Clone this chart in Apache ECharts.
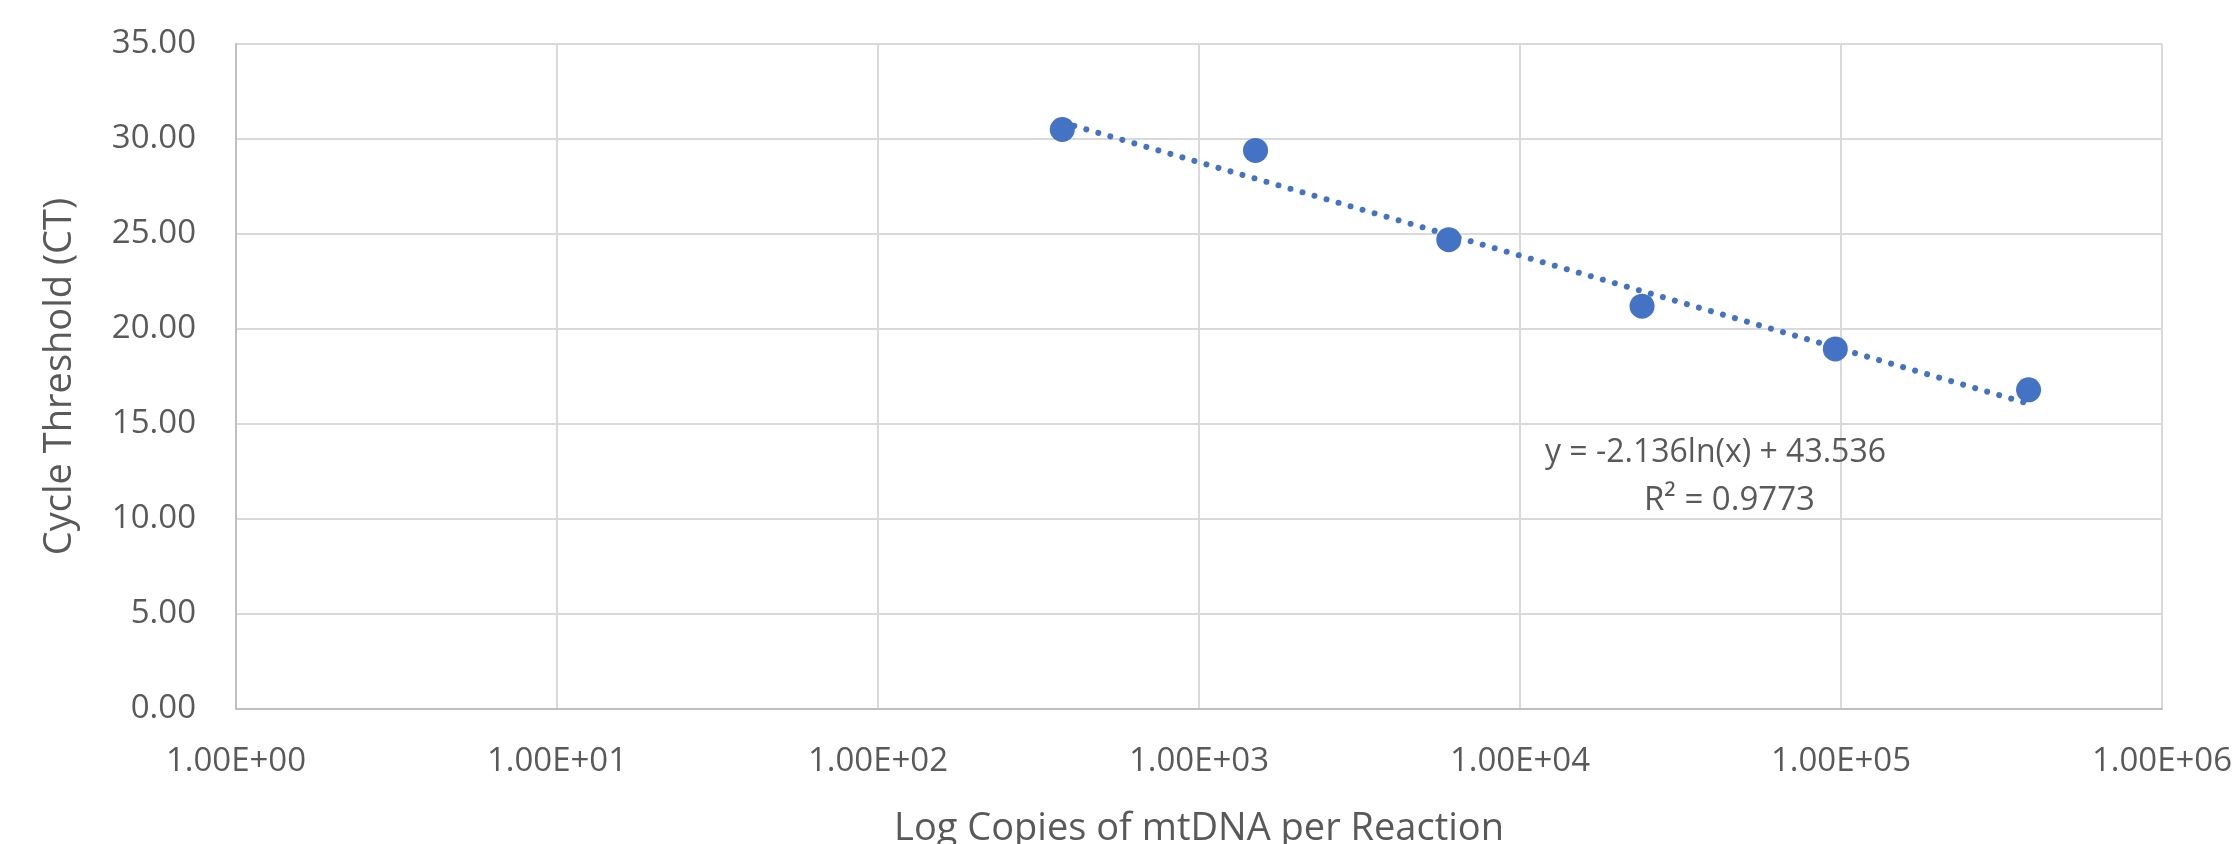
<!DOCTYPE html>
<html>
<head>
<meta charset="utf-8">
<script src="https://cdn.jsdelivr.net/npm/echarts@6/dist/echarts.min.js"></script>
<style>
  html, body { margin: 0; padding: 0; background: #fff; }
  #chart { width: 2235px; height: 844px; }
</style>
</head>
<body>
<div id="chart"></div>
<script>
// standard curve: copies per reaction vs CT
const copies = [375, 1500, 6000, 24000, 96000, 384000]
const ctValues = [30.5, 29.4, 24.7, 21.2, 18.95, 16.8]
const xTickLabels = ['1.00E+00', '1.00E+01', '1.00E+02', '1.00E+03', '1.00E+04', '1.00E+05', '1.00E+06']
const yTickLabels = ['0.00', '5.00', '10.00', '15.00', '20.00', '25.00', '30.00', '35.00']

// Excel log trendline: y = a*ln(x) + b
const trendA = -2.136
const trendB = 43.536
const trendR2 = 0.9773

const BLUE = '#4472C4'
const TEXT = '#595959'
const FONT = '"Open Sans", sans-serif'

const xMin = copies[0]
const xMax = copies[copies.length - 1]
const trendData = [xMin, xMax].map((x) => [x, trendA * Math.log(x) + trendB])

const chart = echarts.init(document.getElementById('chart'))

chart.setOption({
  animation: false,
  textStyle: { fontFamily: FONT },
  grid: { left: 236, right: 73, top: 44, bottom: 135, outerBoundsMode: 'none', containLabel: false },
  xAxis: {
    type: 'log',
    logBase: 10,
    min: 1,
    max: 1e6,
    interval: 1,
    name: 'Log Copies of mtDNA per Reaction',
    nameLocation: 'middle',
    nameGap: 101,
    nameTextStyle: { color: TEXT, fontSize: 38, fontFamily: FONT },
    axisLine: { show: true, lineStyle: { color: '#BFBFBF', width: 2 } },
    axisTick: { show: false },
    minorTick: { show: false },
    axisLabel: {
      color: TEXT, fontSize: 33, margin: 36, fontFamily: FONT,
      formatter: (v) => xTickLabels[Math.round(Math.log10(v))],
    },
    splitLine: { show: true, lineStyle: { color: '#D9D9D9', width: 2 } },
  },
  yAxis: {
    type: 'value',
    min: 0,
    max: 35,
    interval: 5,
    name: 'Cycle Threshold (CT)',
    nameLocation: 'middle',
    nameGap: 157,
    nameTextStyle: { color: TEXT, fontSize: 38, fontFamily: FONT },
    axisLine: { show: true, lineStyle: { color: '#BFBFBF', width: 2 } },
    axisTick: { show: false },
    axisLabel: {
      color: TEXT, fontSize: 33, margin: 40, fontFamily: FONT,
      formatter: (v) => yTickLabels[Math.round(v / 5)],
    },
    splitLine: { show: true, lineStyle: { color: '#D9D9D9', width: 2 } },
  },
  graphic: [
    {
      type: 'text', left: 1545, top: 437, z: 10,
      style: {
        text: 'y = ' + trendA.toFixed(3) + 'ln(x) + ' + trendB.toFixed(3),
        fill: TEXT, font: '32px ' + FONT,
      },
    },
    {
      type: 'text', left: 1644, top: 484, z: 10,
      style: { text: 'R² = ' + trendR2.toFixed(4), fill: TEXT, font: '33px ' + FONT },
    },
  ],
  series: [
    {
      type: 'line',
      data: trendData,
      showSymbol: false,
      lineStyle: { color: BLUE, width: 6, type: [0.01, 12.5], cap: 'round' },
      z: 2,
    },
    {
      type: 'scatter',
      data: copies.map((x, i) => [x, ctValues[i]]),
      symbol: 'circle',
      symbolSize: 25,
      itemStyle: { color: BLUE, opacity: 1 },
      z: 3,
    },
  ],
})
</script>
</body>
</html>
